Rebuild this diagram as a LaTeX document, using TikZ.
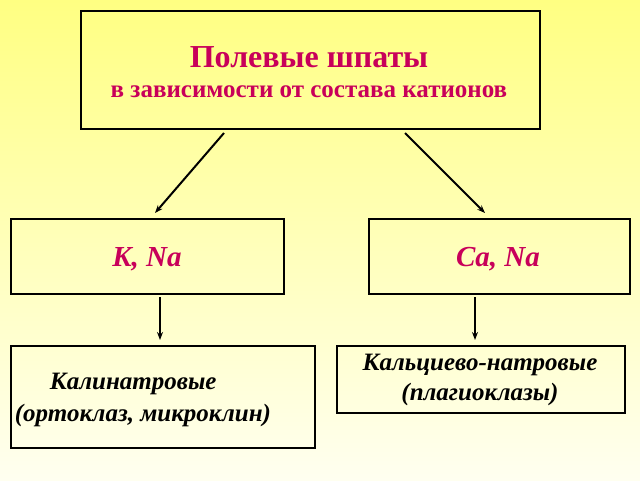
\documentclass[tikz,border=0pt]{standalone}
\usepackage{fontspec}
\usetikzlibrary{arrows.meta}
\setmainfont{Liberation Serif}
\definecolor{hd}{RGB}{200,0,90}
\definecolor{bgtop}{RGB}{255,255,130}
\definecolor{bgbot}{RGB}{255,255,240}
\begin{document}
\begin{tikzpicture}[x=1pt,y=-1pt,
  box/.style={draw=black,line width=1.6pt,inner sep=0pt,anchor=north west},
  arr/.style={-{Stealth[length=8pt,width=6pt]},line width=2pt}]
\useasboundingbox (0,0) rectangle (640,480);
\shade[top color=bgtop,bottom color=bgbot] (0,0) rectangle (640,480);
\node[box,minimum width=459pt,minimum height=118pt] (top) at (80,10) {};
\node[text=hd,font=\bfseries\fontsize{32}{36}\selectfont] (title) at (309,57) {Полевые шпаты};
\node[text=hd,font=\bfseries\fontsize{25}{28}\selectfont] (sub) at (309,92) {в зависимости от состава катионов};
\node[box,minimum width=273pt,minimum height=75pt] (kna) at (10,218) {};
\node[text=hd,font=\bfseries\itshape\fontsize{29}{32}\selectfont] at (147,259) {K, Na};
\node[box,minimum width=261pt,minimum height=75pt] (cana) at (368,218) {};
\node[text=hd,font=\bfseries\itshape\fontsize{29}{32}\selectfont] at (498,259) {Ca, Na};
\node[box,minimum width=304pt,minimum height=102pt] (kal) at (10,345) {};
\node[font=\bfseries\itshape\fontsize{25}{32}\selectfont,align=left] at (143,400) {\hspace*{35pt}Калинатровые\\(ортоклаз, микроклин)};
\node[box,minimum width=288pt,minimum height=67pt] (plag) at (336,345) {};
\node[font=\bfseries\itshape\fontsize{25}{30}\selectfont,align=center] at (480,380) {Кальциево-натровые\\(плагиоклазы)};
\coordinate (a1) at (224,133); \coordinate (a2) at (155,213);
\coordinate (b1) at (405,133); \coordinate (b2) at (485,213);
\coordinate (c1) at (160,297); \coordinate (c2) at (160,340);
\coordinate (d1) at (475,297); \coordinate (d2) at (475,340);
\draw[arr] (a1) -- (a2);
\draw[arr] (b1) -- (b2);
\draw[arr] (c1) -- (c2);
\draw[arr] (d1) -- (d2);
\end{tikzpicture}
\end{document}
